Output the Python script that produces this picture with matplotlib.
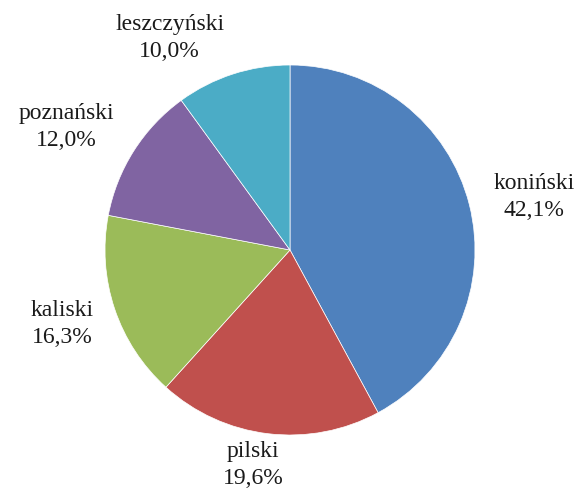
import matplotlib
matplotlib.use("Agg")
import matplotlib.pyplot as plt

categories = ["koniński", "pilski", "kaliski", "poznański", "leszczyński"]
values = [42.1, 19.6, 16.3, 12.0, 10.0]
colors = ["#4F81BD", "#C0504D", "#9BBB59", "#8064A2", "#4BACC6"]
label_pos = [(1.319, 0.286), (-0.200, -1.162), (-1.23, -0.400), (-1.211, 0.665), (-0.65, 1.146)]

W, H = 582, 491
fig = plt.figure(figsize=(W / 100, H / 100), dpi=100)
ax = fig.add_axes([0, 0, 1, 1])
cx, cy, r = 290, 250, 185

ax.pie(values, colors=colors, startangle=90, counterclock=False, radius=1,
       wedgeprops=dict(linewidth=0.5, edgecolor="white"))
ax.set_aspect("auto")
ax.set_xlim((0 - cx) / r, (W - cx) / r)
ax.set_ylim((cy - H) / r, cy / r)
ax.axis("off")

for cat, v, (x, y) in zip(categories, values, label_pos):
    ax.text(x, y, f"{cat}\n{v:.1f}%".replace(".", ","), ha="center", va="center",
            fontsize=17, family="Liberation Serif", linespacing=1.4, color="#1a1a1a")

fig.savefig("out.png", dpi=100)
